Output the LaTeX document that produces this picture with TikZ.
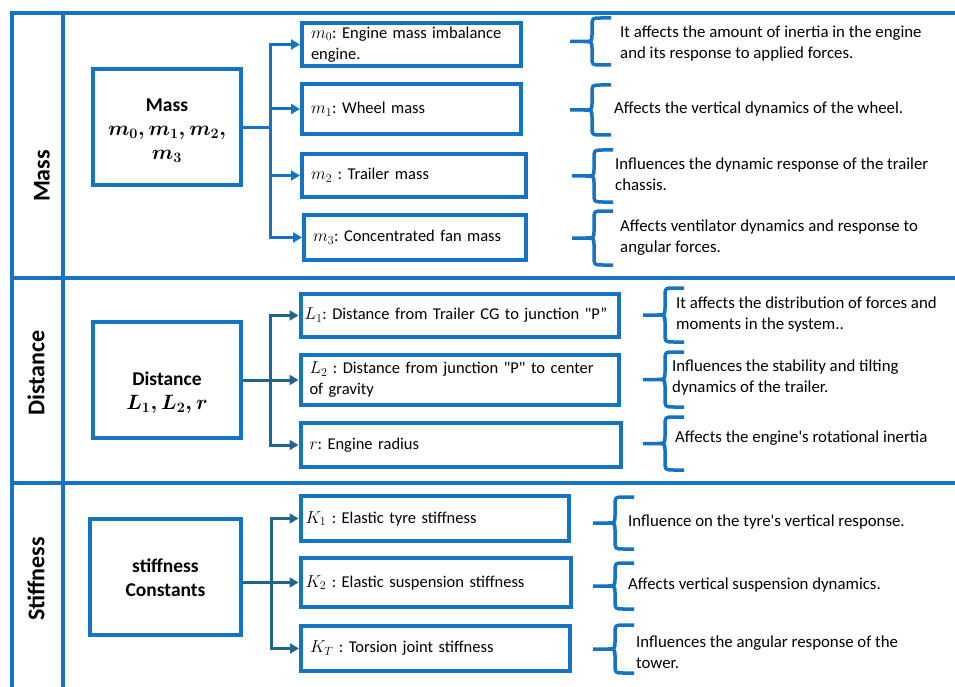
\documentclass[tikz,border=0pt]{standalone}
\usepackage{fontspec}
\setmainfont{Carlito}
\usepackage{amsmath}
\usetikzlibrary{arrows.meta, positioning, calc}

\definecolor{boxblue}{RGB}{22,114,194}
\definecolor{linkblue}{RGB}{33,100,142}

\newcommand{\itemfont}{\fontsize{16.5}{21}\selectfont}
\newcommand{\descfont}{\fontsize{16.8}{21}\selectfont}
\newcommand{\titlefont}{\fontsize{19.5}{24}\selectfont\bfseries}
\newcommand{\rowfont}{\fontsize{24}{28}\selectfont\bfseries}

% curly brace: tip x, top y, bottom y
\newcommand{\descbrace}[3]{%
  \pgfmathsetmacro{\bm}{(#2+#3)/2}
  \pgfmathsetmacro{\xa}{#1+14}
  \pgfmathsetmacro{\xs}{#1+22}
  \pgfmathsetmacro{\xc}{#1+31}
  \pgfmathsetmacro{\xe}{#1+41}
  \draw[bracepath] (\xe,#2) -- (\xc,#2) .. controls (\xs,#2) .. (\xs,#2+9)
    -- (\xs,\bm-8) .. controls (\xs,\bm) .. (\xa,\bm) -- (#1,\bm)
    (\xa,\bm) .. controls (\xs,\bm) .. (\xs,\bm+8)
    -- (\xs,#3-9) .. controls (\xs,#3) .. (\xc,#3) -- (\xe,#3);
}

\frenchspacing
\begin{document}
\begin{tikzpicture}[x=1pt, y=-1pt,
  outline/.style={draw=boxblue, line width=4.5pt},
  bigbox/.style={draw=boxblue, line width=4pt, minimum width=148pt, minimum height=116pt, inner sep=0pt},
  itembox/.style={draw=boxblue, line width=4pt, inner xsep=9pt, inner ysep=0pt, align=left, font=\itemfont},
  desc/.style={anchor=west, inner sep=0pt, align=left, font=\descfont},
  rowlabel/.style={rotate=90, inner sep=0pt, font=\rowfont},
  boxtitle/.style={align=center, inner sep=0pt, font=\titlefont},
  link/.style={line width=3pt},
  arr/.style={link, -{Triangle[length=9pt, width=10pt]}},
  bracepath/.style={draw=boxblue, line width=3.5pt}]

\useasboundingbox (0,0) rectangle (955,687);

% table frame
\draw[outline] (955,13) -- (12,13) -- (12,687);
\draw[outline] (63,13) -- (63,687);
\draw[outline] (12,278) -- (955,278);
\draw[outline] (12,483) -- (955,483);

% row labels
\node[rowlabel] (lmass) at (42,176) {Mass};
\node[rowlabel] (ldist) at (36,373) {Distance};
\node[rowlabel] (lstiff) at (36,579) {Stiffness};

% ---------------- Mass ----------------
\node[bigbox] (mbox) at (167,127.5) {};
\node[boxtitle] (mtitle) at (167,131) {Mass\\$\boldsymbol{m_0, m_1, m_2,}$\\$\boldsymbol{m_3}$};

\node[itembox, text width=201pt, minimum height=43pt] (m0) at (411.5,44.5) {$m_0$: Engine mass imbalance\\engine.};
\node[itembox, text width=201pt, minimum height=50pt] (m1) at (411.5,109) {$m_1$: Wheel mass};
\node[itembox, text width=206pt, minimum height=43pt] (m2) at (414,175.5) {$m_2$ : Trailer mass};
\node[itembox, text width=204pt, minimum height=45pt] (m3) at (415,237.5) {$m_3$: Concentrated fan mass};

\coordinate (jm) at (270,127.5);
\draw[link, draw=boxblue] (mbox.east) -- (jm);
\foreach \t in {m0,m1,m2,m3}
  \draw[arr, draw=boxblue] (jm) |- (\t.west);

\descbrace{570}{18}{65}
\descbrace{570}{85}{135}
\descbrace{572}{150}{202}
\descbrace{572}{211}{265}

\node[desc] (dm0) at (620,44) {It affects the amount of inertia in the engine\\and its response to applied forces.};
\node[desc] (dm1) at (614,109) {Affects the vertical dynamics of the wheel.};
\node[desc] (dm2) at (615,174) {Influences the dynamic response of the trailer\\chassis.};
\node[desc] (dm3) at (620,238) {Affects ventilator dynamics and response to\\angular forces.};

% ---------------- Distance ----------------
\node[bigbox] (dbox) at (167,380) {};
\node[boxtitle] (dtitle) at (167,393) {Distance\\$\boldsymbol{L_1, L_2, r}$};

\node[itembox, inner xsep=4pt, text width=310pt, minimum height=43pt] (L1) at (459.5,315.5) {$L_1$: Distance from Trailer CG to junction \textquotedbl P”};
\node[itembox, text width=300pt, minimum height=50pt] (L2) at (459.5,380) {$L_2$ : Distance from junction \textquotedbl P\textquotedbl{} to center\\of gravity};
\node[itembox, text width=302pt, minimum height=44pt] (Lr) at (460.5,445) {$r$: Engine radius};

\coordinate (jd) at (270,380);
\draw[link, draw=linkblue] (dbox.east) -- (jd);
\foreach \t in {L1,L2,Lr}
  \draw[arr, draw=linkblue] (jd) |- (\t.west);

\descbrace{643}{288}{342}
\descbrace{643}{352}{407}
\descbrace{643}{417}{470}

\node[desc] (dd1) at (676,315) {It affects the distribution of forces and\\moments in the system..};
\node[desc] (dd2) at (672,378) {Influences the stability and tilting\\dynamics of the trailer.};
\node[desc] (dd3) at (675,438) {Affects the engine\textquotesingle s rotational inertia};

% ---------------- Stiffness ----------------
\node[bigbox, minimum width=151pt] (sbox) at (165.5,577) {};
\node[boxtitle] (stitle) at (165.5,578) {stiffness\\Constants};

\node[itembox, inner xsep=5pt, text width=258pt, minimum height=45pt] (K1) at (434.5,518.5) {$K_1$ : Elastic tyre stiffness};
\node[itembox, inner xsep=5pt, text width=260pt, minimum height=49pt] (K2) at (435.5,582.5) {$K_2$ : Elastic suspension stiffness};
\node[itembox, text width=251pt, minimum height=45pt] (KT) at (435.5,648.5) {$K_T$ : Torsion joint stiffness};

\coordinate (js) at (271,582);
\draw[link, draw=linkblue] (sbox.east |- js) -- (js);
\foreach \t in {K1,K2,KT}
  \draw[arr, draw=linkblue] (js) |- (\t.west);

\descbrace{593}{497}{549}
\descbrace{593}{563}{609}
\descbrace{593}{625}{673}

\node[desc] (ds1) at (628,522) {Influence on the tyre\textquotesingle s vertical response.};
\node[desc] (ds2) at (628,585) {Affects vertical suspension dynamics.};
\node[desc] (ds3) at (636,652) {Influences the angular response of the\\tower.};
\end{tikzpicture}
\end{document}
